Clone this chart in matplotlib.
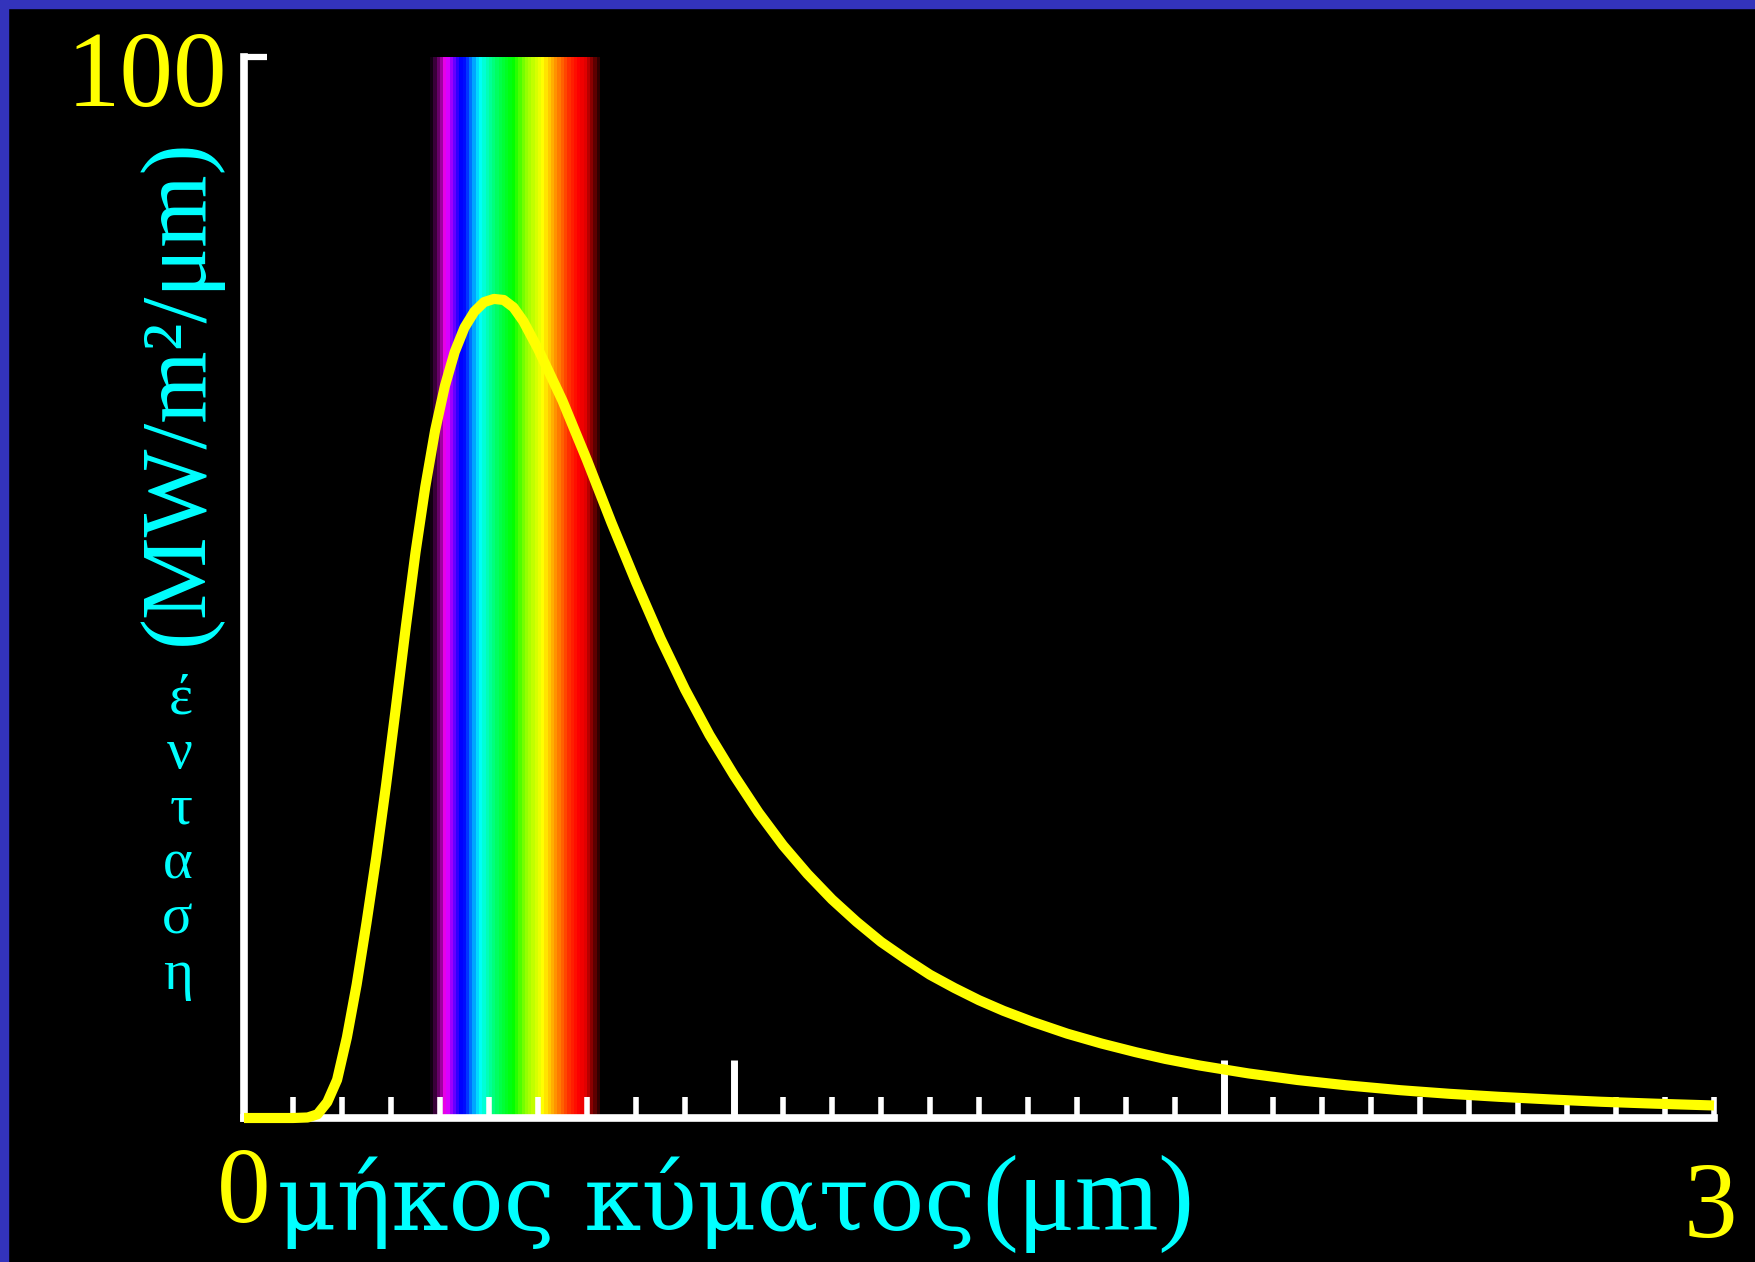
import numpy as np
import matplotlib.pyplot as plt
from matplotlib.colors import LinearSegmentedColormap
from matplotlib.patches import Rectangle
from matplotlib.ticker import FixedLocator, MultipleLocator

# wavelength (um) and spectral exitance (MW/m^2/um)
wavelength = [0.00, 0.10, 0.13, 0.15, 0.17, 0.19, 0.21, 0.23, 0.25, 0.27,
              0.29, 0.31, 0.33, 0.35, 0.37, 0.39, 0.41, 0.43, 0.45, 0.47,
              0.49, 0.51, 0.53, 0.55, 0.57, 0.60, 0.65, 0.70, 0.75, 0.80,
              0.85, 0.90, 0.95, 1.00, 1.05, 1.10, 1.15, 1.20, 1.25, 1.30,
              1.35, 1.40, 1.45, 1.50, 1.55, 1.61, 1.68, 1.75, 1.82, 1.88,
              1.95, 2.05, 2.15, 2.25, 2.36, 2.46, 2.56, 2.67, 2.77, 2.88,
              3.00]
exitance = [0.0, 0.0, 0.05, 0.35, 1.5, 3.6, 7.6, 12.6, 18.4, 24.6,
            31.4, 38.7, 46.2, 53.3, 59.5, 64.8, 69.0, 72.2, 74.5, 76.0,
            76.9, 77.2, 77.1, 76.4, 75.1, 72.5, 67.6, 62.0, 56.1, 50.5,
            45.2, 40.4, 36.1, 32.3, 28.8, 25.7, 23.0, 20.6, 18.5, 16.6,
            15.0, 13.5, 12.25, 11.1, 10.1, 9.05, 7.95, 7.02, 6.2, 5.57,
            4.95, 4.2, 3.58, 3.08, 2.62, 2.28, 2.0, 1.74, 1.53, 1.35,
            1.18]

# visible band colour stops (um -> colour)
band_wl = [0.3796, 0.390, 0.400, 0.409, 0.420, 0.440, 0.450, 0.463, 0.480,
           0.500, 0.520, 0.549, 0.575, 0.600, 0.611, 0.640, 0.665, 0.685,
           0.700, 0.712, 0.7265]
band_colors = ['#100010', '#500050', '#a000a0', '#ff00ff', '#a000ff',
               '#0000ff', '#0010ff', '#0080ff', '#00ffff', '#00ffa0',
               '#00ff50', '#00ff00', '#90ff00', '#e0ff00', '#ffff00',
               '#ff8c00', '#ff3000', '#ff0000', '#e00000', '#900000',
               '#300000']

x_words = 'μήκος κύματος'
x_unit = '(μm)'
y_unit = '(MW/m²/μm)'
y_word = 'έ\nν\nτ\nα\nσ\nη'

serif = ['Liberation Serif', 'DejaVu Serif']
greek = ['DejaVu Serif']
W, H = 1756, 1262

fig = plt.figure(figsize=(W / 100, H / 100), dpi=100, facecolor='black')
fig.add_artist(Rectangle((0, 1 - 8 / H), 1, 8 / H, transform=fig.transFigure,
                         color='#3333bb', zorder=10))
fig.add_artist(Rectangle((0, 0), 8 / W, 1, transform=fig.transFigure,
                         color='#3333bb', zorder=10))

ax = fig.add_axes([244 / W, 1 - 1118 / H, 1470 / W, 1061 / H])
ax.set_facecolor('black')
ax.set_xlim(0, 3)
ax.set_ylim(0, 100)

# rainbow band of the visible range
lo, hi = band_wl[0], band_wl[-1]
stops = [(w - lo) / (hi - lo) for w in band_wl]
cmap = LinearSegmentedColormap.from_list('visible', list(zip(stops, band_colors)))
n_strips = 52
strip = cmap(np.linspace(0, 1, n_strips))[np.newaxis, :, :]
ax.imshow(strip, extent=[lo, hi, 0, 100], aspect='auto',
          interpolation='nearest', zorder=1)

ax.plot(wavelength, exitance, color='#ffff00', lw=7.3, zorder=3,
        clip_on=False, solid_capstyle='butt', solid_joinstyle='round')

for side in ['top', 'right']:
    ax.spines[side].set_visible(False)
for side in ['left', 'bottom']:
    ax.spines[side].set_color('white')
    ax.spines[side].set_linewidth(5.5)
    ax.spines[side].set_zorder(2.5)

ax.xaxis.set_major_locator(FixedLocator([1, 2]))
ax.xaxis.set_minor_locator(MultipleLocator(0.1))
ax.yaxis.set_major_locator(FixedLocator([100]))
ax.tick_params(axis='x', which='major', direction='in', length=42, width=5,
               color='white', labelbottom=False)
ax.tick_params(axis='x', which='minor', direction='in', length=15, width=4,
               color='white')
ax.tick_params(axis='y', which='major', direction='in', length=16.5, width=4.5,
               color='white', labelleft=False)

ax.annotate('100', xy=(0, 100), xytext=(-17, -49), textcoords='offset pixels',
            ha='right', va='baseline', color='#ffff00', fontsize=77,
            family=serif, annotation_clip=False)
ax.annotate('0', xy=(0, 0), xytext=(0, -104), textcoords='offset pixels',
            ha='center', va='baseline', color='#ffff00', fontsize=77,
            family=serif, annotation_clip=False)
ax.annotate('3', xy=(3, 0), xytext=(-4, -119), textcoords='offset pixels',
            ha='center', va='baseline', color='#ffff00', fontsize=77,
            family=serif, annotation_clip=False)
ax.annotate(x_words, xy=(0, 0), xytext=(33, -112), textcoords='offset pixels',
            ha='left', va='baseline', color='#00ffff', fontsize=66,
            family=greek, annotation_clip=False)
ax.annotate(x_unit, xy=(0, 0), xytext=(738, -112), textcoords='offset pixels',
            ha='left', va='baseline', color='#00ffff', fontsize=77,
            family=serif, annotation_clip=False)
ax.annotate(y_unit, xy=(0, 100), xytext=(-65, -335), textcoords='offset pixels',
            ha='center', va='center', rotation=90, color='#00ffff',
            fontsize=67, family=serif, annotation_clip=False)
ax.annotate(y_word, xy=(0, 100), xytext=(-51, -616), textcoords='offset pixels',
            ha='right', va='top', multialignment='right', linespacing=1.08,
            color='#00ffff', fontsize=41, family=serif, annotation_clip=False)

fig.savefig('out.png', dpi=100, facecolor='black')
